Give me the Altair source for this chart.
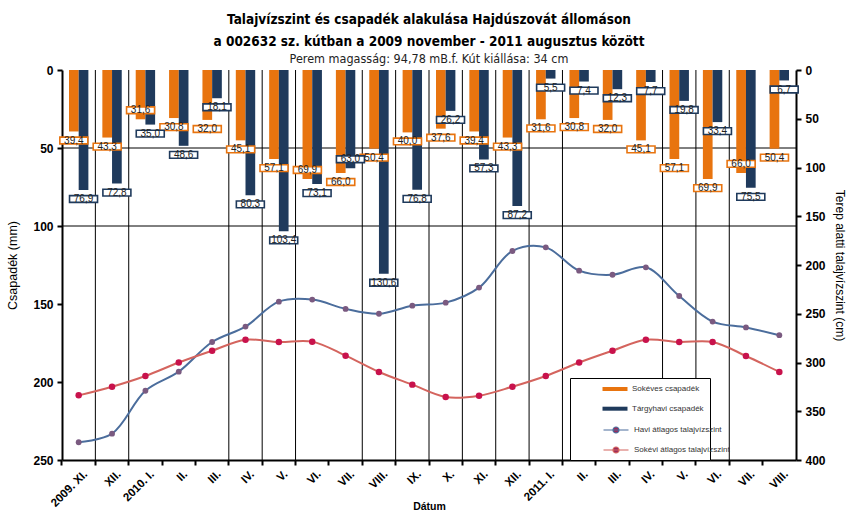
import altair as alt
import pandas as pd

# ---- data ----
month_labels = ["2009. XI.", "XII.", "2010. I.", "II.", "III.", "IV.", "V.", "VI.", "VII.",
                "VIII.", "IX.", "X.", "XI.", "XII.", "2011. I.", "II.", "III.", "IV.", "V.",
                "VI.", "VII.", "VIII."]
sokeves = [39.4, 43.3, 31.6, 30.8, 32.0, 45.1, 57.1, 69.9, 66.0, 50.4, 40.0, 37.6,
           39.4, 43.3, 31.6, 30.8, 32.0, 45.1, 57.1, 69.9, 66.0, 50.4]
targyhavi = [76.9, 72.8, 35.0, 48.6, 18.1, 80.3, 103.4, 73.1, 63.0, 130.6, 76.8, 26.2,
             57.3, 87.2, 5.5, 7.4, 12.3, 7.7, 19.8, 33.4, 75.5, 6.7]
havi_szint = [381.8, 373.0, 329.0, 309.4, 279.0, 263.2, 237.6, 235.5, 245.0, 250.0, 241.7,
              238.6, 223.2, 185.6, 181.9, 205.8, 210.0, 202.4, 231.8, 258.0, 264.0, 272.0]
sokevi_szint = [333.7, 324.8, 313.8, 300.0, 287.9, 276.6, 279.0, 278.6, 293.0, 309.7, 322.7,
                335.4, 334.0, 324.8, 313.8, 300.0, 287.9, 276.6, 279.0, 279.0, 293.3, 309.7]
grid_months = [1, 2, 5, 6, 7, 9, 10, 11, 12, 13, 14, 15, 18, 19, 20]
hgrid_values = [50, 100]

S_ORANGE = "Sokéves csapadék"
S_BLUE = "Tárgyhavi csapadék"
S_HAVI = "Havi átlagos talajvízszint"
S_SOKEVI = "Sokévi átlagos talajvízszint"

n = len(month_labels)
idx = list(range(n))
bars_df = pd.DataFrame({"i": idx + idx,
                        "series": [S_ORANGE] * n + [S_BLUE] * n,
                        "value": sokeves + targyhavi})
lines_df = pd.DataFrame({"i": idx + idx,
                         "series": [S_HAVI] * n + [S_SOKEVI] * n,
                         "v": havi_szint + sokevi_szint})
grid_df = pd.DataFrame({"i": grid_months})
hgrid_df = pd.DataFrame({"v": hgrid_values})

FONT = "Liberation Sans"
TITLE_FONT = "'Liberation Sans Narrow', 'DejaVu Sans Condensed', 'Liberation Sans', sans-serif"
label_js = "[" + ",".join("'%s'" % m for m in month_labels) + "][datum.value]"

X_SCALE = alt.Scale(paddingInner=0, paddingOuter=0)
LEFT_SCALE = alt.Scale(domain=[0, 250], reverse=True, nice=False)
RIGHT_SCALE = alt.Scale(domain=[0, 400], reverse=True, nice=False)
BAR_COLORS = alt.Scale(domain=[S_ORANGE, S_BLUE], range=["#e8740f", "#1f3a5c"])
LINE_COLORS = alt.Scale(domain=[S_HAVI, S_SOKEVI], range=["#4b6d9c", "#d4645e"])
XOFF = alt.XOffset("series:N", sort=[S_ORANGE, S_BLUE],
                   scale=alt.Scale(paddingOuter=0.72, paddingInner=0))

NB = "\u00a0"
legend_bars = alt.Legend(
    title=[NB * 92, NB], titleOrient="bottom", titleFontSize=8, titleLineHeight=28,
    titlePadding=5, orient="none", legendX=508, legendY=308,
    fillColor="white", strokeColor="black", padding=6,
    symbolOffset=34, symbolSize=100, labelOffset=12,
    symbolType="M-2.5,-0.4L2.5,-0.4L2.5,0.4L-2.5,0.4Z", symbolStrokeWidth=0,
    labelFont=FONT, labelFontSize=8, labelColor="#333333", rowPadding=10.7, zindex=1)
legend_lines = alt.Legend(
    title=None, orient="none", legendX=508, legendY=354, padding=0,
    symbolOffset=40, symbolSize=100, labelOffset=12,
    symbolType="M-2.5,0L2.5,0M-0.6,0A0.6,0.6,0,1,0,0.6,0A0.6,0.6,0,1,0,-0.6,0",
    symbolStrokeWidth=1.2, symbolFillColor="#9a2a5a",
    labelFont=FONT, labelFontSize=8, labelColor="#333333", rowPadding=8.0, zindex=2)

x_axis = alt.Axis(title="Dátum", labelExpr=label_js, labelAngle=-45, bandPosition=0,
                  labelOffset=3, tickSize=5, tickWidth=2, tickColor="black",
                  domainColor="black", domainWidth=2, grid=False, labelPadding=3,
                  labelFont=FONT, labelFontWeight="bold", labelFontSize=11.5, labelColor="black",
                  titleFont=FONT, titleFontWeight="bold", titleFontSize=10.5, titleColor="black",
                  titlePadding=-7)
left_axis = alt.Axis(orient="left", title="Csapadék (mm)", values=[0, 50, 100, 150, 200, 250],
                     grid=False, domainColor="black", domainWidth=2, tickColor="black",
                     tickWidth=2, tickSize=5, labelFont=FONT, labelFontWeight="bold",
                     labelFontSize=12, labelColor="black", labelPadding=4,
                     titleFont=FONT, titleFontWeight="normal", titleFontSize=12.5,
                     titleColor="black", titlePadding=13)
right_axis = alt.Axis(orient="right", title="Terep alatti talajvízszint (cm)",
                      values=[0, 50, 100, 150, 200, 250, 300, 350, 400],
                      grid=False, domainColor="black", domainWidth=2, tickColor="black",
                      tickWidth=2, tickSize=5, labelFont=FONT, labelFontWeight="bold",
                      labelFontSize=12, labelColor="black", labelPadding=4,
                      titleFont=FONT, titleFontWeight="normal", titleFontSize=12,
                      titleColor="black", titlePadding=7)

X_ENC = alt.X("i:O", scale=X_SCALE, axis=x_axis)

vgrid = alt.Chart(grid_df).mark_rule(color="black", strokeWidth=1).encode(
    x=alt.X("i:O", bandPosition=0, scale=X_SCALE, axis=x_axis))
hgrid = alt.Chart(hgrid_df).mark_rule(color="black", strokeWidth=1).encode(
    y=alt.Y("v:Q", scale=LEFT_SCALE, axis=left_axis))

bars = alt.Chart(bars_df).mark_bar().encode(
    x=X_ENC,
    xOffset=XOFF,
    y=alt.Y("value:Q", scale=LEFT_SCALE, axis=left_axis),
    color=alt.Color("series:N", scale=BAR_COLORS, legend=legend_bars))

# label placement: below the bar end, except the shorter bar of a close pair (above its end)
lab_base = alt.Chart(bars_df).transform_joinaggregate(
    minv="min(value)", maxv="max(value)", groupby=["i"]
).transform_calculate(
    lab="replace(format(datum.value, '.1f'), '.', ',')",
    ly="(datum.maxv - datum.minv < 10 && datum.value == datum.minv) ? datum.value - 5.8 : datum.value + 5.8",
)
boxes = lab_base.mark_point(shape="M-1,-0.24L1,-0.24L1,0.24L-1,0.24Z", size=784,
                            filled=False, fill="white", fillOpacity=1, strokeWidth=1.6,
                            opacity=1).encode(
    x=X_ENC,
    xOffset=XOFF,
    y=alt.Y("ly:Q", scale=LEFT_SCALE, axis=left_axis),
    color=alt.Color("series:N", scale=BAR_COLORS, legend=legend_bars))
texts = lab_base.mark_text(font=FONT, fontSize=10, color="#222222").encode(
    x=X_ENC,
    xOffset=XOFF,
    y=alt.Y("ly:Q", scale=LEFT_SCALE, axis=left_axis),
    text="lab:N")

left_group = alt.layer(vgrid, hgrid, bars, boxes, texts)

line = alt.Chart(lines_df).mark_line(interpolate="catmull-rom", strokeWidth=2).encode(
    x=X_ENC,
    y=alt.Y("v:Q", scale=RIGHT_SCALE, axis=right_axis),
    stroke=alt.Stroke("series:N", scale=LINE_COLORS, legend=legend_lines))
pts_havi = alt.Chart(lines_df).transform_filter(alt.datum.series == S_HAVI).mark_point(
    filled=True, opacity=1, color="#7a5a80", size=34).encode(
    x=X_ENC,
    y=alt.Y("v:Q", scale=RIGHT_SCALE, axis=right_axis))
pts_sokevi = alt.Chart(lines_df).transform_filter(alt.datum.series == S_SOKEVI).mark_point(
    filled=True, opacity=1, color="#c8124c", size=42).encode(
    x=X_ENC,
    y=alt.Y("v:Q", scale=RIGHT_SCALE, axis=right_axis))

right_group = alt.layer(line, pts_havi, pts_sokevi)

chart = alt.layer(left_group, right_group).resolve_scale(y="independent").properties(
    width=734, height=390,
    autosize=alt.AutoSizeParams(type="none"),
    padding={"left": 62, "top": 70, "right": 60, "bottom": 58},
    background="white",
    title=alt.TitleParams(
        text=["Talajvízszint és csapadék alakulása Hajdúszovát állomáson",
              "a 002632 sz. kútban a 2009 november - 2011 augusztus között"],
        subtitle="Perem magasság: 94,78 mB.f.  Kút kiállása: 34 cm",
        font=TITLE_FONT, fontSize=13.5, fontWeight="bold", color="black",
        lineHeight=22, subtitleFont=TITLE_FONT, subtitleFontSize=12.5,
        subtitleColor="#222222", subtitlePadding=4, anchor="middle", offset=-1),
).configure_view(stroke=None)

chart.save("out.html", embed_options={"renderer": "svg", "actions": False})
